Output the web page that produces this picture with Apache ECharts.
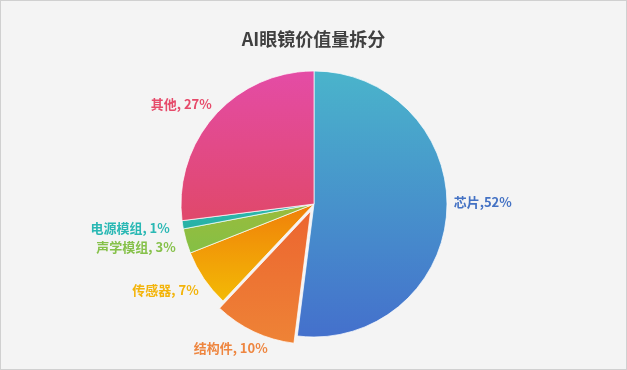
<!DOCTYPE html>
<html>
<head>
<meta charset="utf-8">
<script src="https://cdn.jsdelivr.net/npm/echarts@6/dist/echarts.min.js"></script>
<style>
  html, body { margin: 0; padding: 0; background: #fff; }
  #chart {
    width: 625px; height: 368px;
    background: #f4f4f4;
    border: 1px solid #d0d0d0;
  }
</style>
</head>
<body>
<div id="chart"></div>
<script>
const categories = ['芯片', '结构件', '传感器', '声学模组', '电源模组', '其他'];
const shares = [52, 10, 7, 3, 1, 27];
const topColors = ['#4ab4cb', '#ec6530', '#f07f0a', '#9bbb3c', '#2fb9ae', '#e44ca6'];
const bottomColors = ['#4470cc', '#ee8336', '#f3ba05', '#84c045', '#26b0a4', '#e0486a'];
const labelColors = ['#4472c4', '#ee8640', '#f3b40a', '#86c14a', '#2ab8b4', '#e64a6a'];
// small nudges so labels sit where the original placed them
const labelNudge = [[-8, -11], [23, 7], [8, 6], [4, 3], [2, 2], [10, -5]];

const chart = echarts.init(document.getElementById('chart'));

const data = categories.map((name, i) => ({
  name,
  value: shares[i],
  selected: name === '结构件',
  itemStyle: {
    color: new echarts.graphic.LinearGradient(0, 0, 0, 1, [
      { offset: 0, color: topColors[i] },
      { offset: 1, color: bottomColors[i] }
    ])
  },
  label: { color: labelColors[i] }
}));

chart.setOption({
  animation: false,
  title: {
    text: 'AI眼镜价值量拆分',
    left: 'center',
    top: 24,
    textStyle: {
      fontFamily: 'Noto Sans CJK SC',
      fontSize: 18,
      fontWeight: 'bold',
      color: '#404040'
    }
  },
  series: [{
    type: 'pie',
    center: [313, 203],
    radius: 133,
    startAngle: 90,
    clockwise: true,
    selectedMode: 'single',
    selectedOffset: 8,
    itemStyle: {
      borderColor: 'rgba(255,255,255,0.7)',
      borderWidth: 1
    },
    label: {
      show: true,
      position: 'outside',
      formatter: p => p.dataIndex === 0 ? `${p.name},${p.value}%` : `${p.name}, ${p.value}%`,
      fontFamily: 'Noto Sans CJK SC',
      fontSize: 13,
      fontWeight: 'bold'
    },
    labelLine: { show: false, length: 10, length2: 0 },
    labelLayout: p => ({ dx: labelNudge[p.dataIndex][0], dy: labelNudge[p.dataIndex][1] }),
    emphasis: { disabled: true },
    data
  }]
});
</script>
</body>
</html>
